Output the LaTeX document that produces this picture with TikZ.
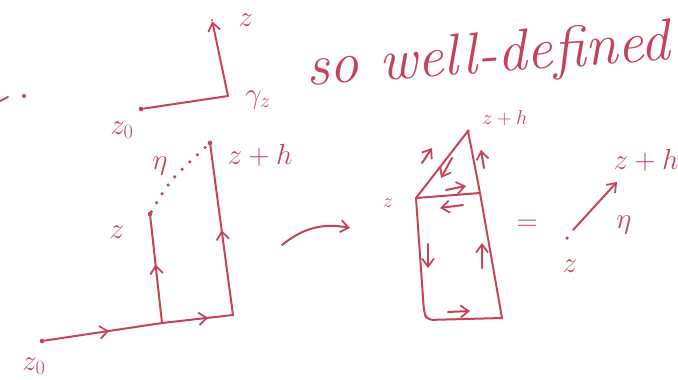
\documentclass[tikz,border=0pt]{standalone}
\usepackage{amsmath}
\usepackage{xcolor}
\usetikzlibrary{arrows.meta,decorations.markings}
\definecolor{inkred}{RGB}{198, 66, 88}
\tikzset{
 ink/.style={
 draw=inkred,
 line width=1.7pt,
 line cap=round,
 line join=round
 },
 inkarrow/.style={
 ink,
 -{Straight Barb[length=2.4mm,width=3.6mm,line width=1.5pt]}
 },
 midarrow/.style={
 ink,
 postaction={decorate},
 decoration={markings,
 mark=at position #1 with {\arrow{Straight Barb[length=2.4mm,width=3.8mm,line width=1.5pt]}}}
 },
 pt/.style={circle, fill=inkred, inner sep=0pt, minimum size=4pt},
 lbl/.style={text=inkred, font=\fontsize{25}{27}\selectfont, inner sep=1pt},
 smalllbl/.style={text=inkred, font=\fontsize{19}{21}\selectfont, inner sep=1pt},
 hand/.style={text=inkred, font=\itshape\fontsize{50}{54}\selectfont, inner sep=0pt}
}

\begin{document}
\begin{tikzpicture}[x=0.03cm, y=-0.03cm]
 \useasboundingbox (0,0) rectangle (678,379);

 % stray marks on the left
 \draw[ink] (0,101) -- (8,97);
 \node[pt, minimum size=3.5pt] (stray) at (24,96) {};

 % top path gamma_z
 \node[pt] (tz0) at (141,109) {};
 \coordinate (tg) at (228,96);
 \node[pt, minimum size=2pt] (tz) at (212,20) {};
 \draw[inkarrow] (tz0) -- (tg) -- (tz);
 \node[lbl] (ltz) at (246,20) {$z$};
 \node[lbl] (ltg) at (258,100) {$\gamma_z$};
 \node[lbl] (ltz0) at (122,130) {$z_0$};

 % note
 \node[hand, rotate=4] (note) at (488,58) {so well-defined};

 % middle left paths
 \node[pt] (mz0) at (42,341) {};
 \coordinate (ma) at (162,323);
 \coordinate (mb) at (233,315);
 \node[pt] (mz) at (150,214) {};
 \node[pt] (mzh) at (210,143) {};
 \draw[midarrow=0.55] (mz0) -- (ma);
 \draw[midarrow=0.55] (ma) -- (mz);
 \draw[midarrow=0.65] (ma) -- (mb);
 \draw[midarrow=0.5] (mb) -- (mzh);
 \draw[inkred, line width=3pt, line cap=round, dash pattern=on 0pt off 9pt]
 (mz) .. controls (170,180) .. (mzh);
 \node[lbl] (lmz) at (117,232) {$z$};
 \node[lbl] (lmzh) at (260,155) {$z+h$};
 \node[lbl] (lmz0) at (34,366) {$z_0$};
 \node[lbl] (leta) at (160,166) {$\eta$};

 % curved arrow
 \coordinate (ca) at (282,245);
 \coordinate (cb) at (350,228);
 \draw[inkarrow] (ca) to[bend left=25] (cb);

 % triangle over the rectangle
 \coordinate (rz) at (416,198);
 \coordinate (rzh) at (468,131);
 \coordinate (rc) at (480,193);
 \coordinate (rbl) at (424,312);
 \coordinate (rbr) at (502,318);
 \draw[ink] (rz) -- (rzh) -- (rc) -- (rbr);
 \draw[ink] (rz) -- (rc);
 \draw[ink, rounded corners=5pt] (rz) -- (rbl) -- (427,320) -- (rbr);
 \node[pt, minimum size=3pt] (rtop) at (rzh) {};
 \draw[inkarrow] (422,163) -- (432,148);
 \draw[inkarrow] (484,168) -- (481,150);
 \draw[inkarrow] (452,158) -- (441,178);
 \draw[inkarrow] (446,190) -- (466,186);
 \draw[inkarrow] (463,205) -- (440,208);
 \draw[inkarrow] (428,244) -- (428,268);
 \draw[inkarrow] (482,268) -- (482,243);
 \draw[inkarrow] (448,312) -- (470,311);
 \node[smalllbl] (lrz) at (388,203) {$z$};
 \node[smalllbl] (lrzh) at (505,118) {$z+h$};

 % equals sign
 \node[text=inkred, font=\fontsize{30}{32}\selectfont] (eq) at (527,225) {$=$};

 % single segment eta
 \node[pt, minimum size=3pt] (sz) at (567,238) {};
 \coordinate (szh) at (617,182);
 \draw[inkarrow] (573,230) -- (szh);
 \node[lbl] (lsz) at (570,266) {$z$};
 \node[lbl] (lszh) at (646,160) {$z+h$};
 \node[lbl, font=\fontsize{30}{32}\selectfont] (lseta) at (624,225) {$\eta$};
\end{tikzpicture}
\end{document}
